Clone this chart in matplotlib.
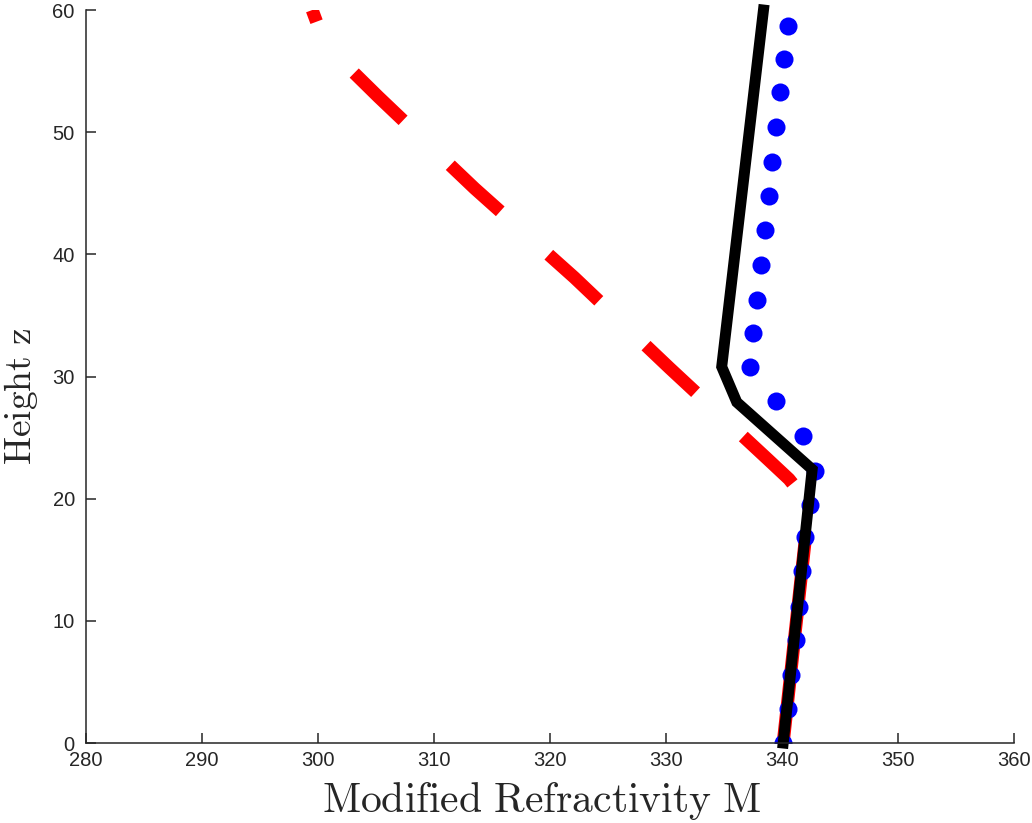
import matplotlib.pyplot as plt
import numpy as np

# refractivity profiles (M units) vs height z
black_m = [340.1, 342.6, 336.1, 334.8, 338.4]
black_z = [0.0, 22.4, 27.9, 30.8, 60.0]

red_m = [340.1, 342.1, 341.7, 340.6, 338.8, 330.3, 322.1, 313.5, 305.2, 300.6, 299.5]
red_z = [0.0, 17.5, 20.3, 21.6, 23.2, 30.7, 38.1, 45.4, 52.9, 57.2, 60.0]

blue_m = [340.1, 340.5, 340.8, 341.2, 341.5, 341.7, 342.0, 342.4, 342.8, 341.8, 339.5,
          337.2, 337.5, 337.8, 338.2, 338.5, 338.9, 339.1, 339.5, 339.8, 340.2, 340.5]
blue_z = [0.0, 2.8, 5.6, 8.4, 11.1, 14.1, 16.9, 19.5, 22.3, 25.1, 28.0,
          30.8, 33.6, 36.3, 39.1, 42.0, 44.8, 47.6, 50.4, 53.3, 56.0, 58.7]

x_ticks = np.arange(280, 361, 10)
y_ticks = np.arange(0, 61, 10)

plt.rcParams['mathtext.fontset'] = 'cm'
plt.rcParams['font.family'] = ['Liberation Sans', 'DejaVu Sans']

fig = plt.figure(figsize=(10.32, 8.23), dpi=100)
ax = fig.add_axes([0.0833, 0.0972, 0.8993, 0.8906])

#red dashed profile - long first dash then regular dashes
red_dash = (0, (15.6, 4.74) + (5.23, 5.01) * 6)
ax.plot(red_m, red_z, color=(1, 0, 0), lw=9.36, linestyle=red_dash,
        dash_capstyle='butt', dash_joinstyle='round')
ax.plot(blue_m, blue_z, 'o', color=(0, 0, 1), markersize=13, markeredgewidth=0)
ax.plot(black_m, black_z, color='black', lw=7.9, solid_capstyle='projecting',
        solid_joinstyle='miter', clip_on=False)

ax.set_xlim(280, 360)
ax.set_ylim(0, 60)
ax.set_xticks(x_ticks)
ax.set_yticks(y_ticks)
ax.spines['top'].set_visible(False)
ax.spines['right'].set_visible(False)
for s in ['left', 'bottom']:
    ax.spines[s].set_color('#262626')
    ax.spines[s].set_linewidth(1.1)
ax.tick_params(axis='both', direction='in', length=7.2, width=1.1, color='#262626',
               labelsize=14.5, labelcolor='#262626')
ax.tick_params(axis='x', pad=6)
ax.tick_params(axis='y', pad=8)

ax.set_xlabel(r'$\mathrm{Modified\ Refractivity\ M}$', fontsize=30, color='#262626')
ax.set_ylabel(r'$\mathrm{Height\ z}$', fontsize=27, color='#262626')
ax.xaxis.set_label_coords(0.491, -0.05)
ax.yaxis.set_label_coords(-0.049, 0.473)

plt.savefig('out.png', dpi=100)
